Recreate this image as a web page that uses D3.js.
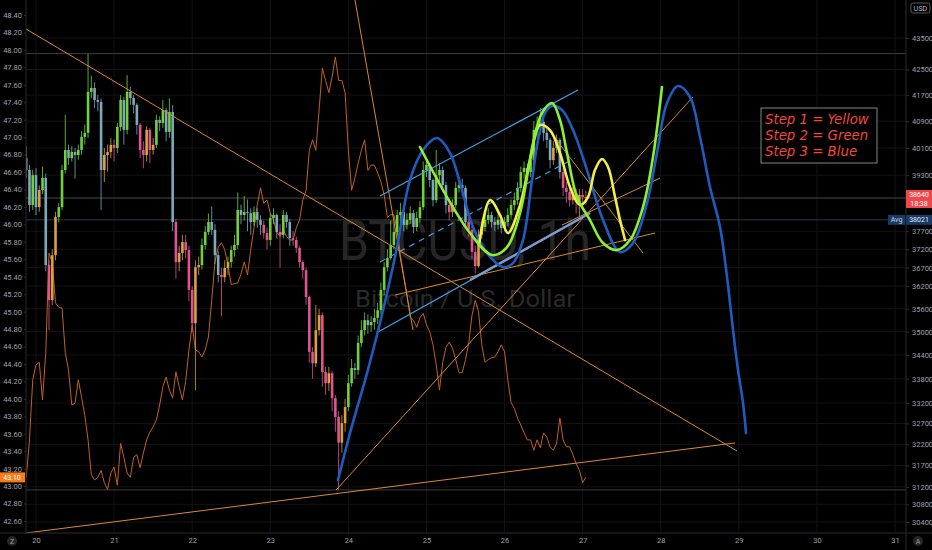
<!DOCTYPE html>
<html>
<head>
<meta charset="utf-8">
<script src="https://cdn.jsdelivr.net/npm/d3@7"></script>
<style>
  html, body { margin: 0; background: #000; }
  svg { display: block; }
  .axis text { fill: #9ea1a8; font: 7.5px Roboto, sans-serif; }
  .axis path, .axis line { stroke: #2b2b2b; }
</style>
</head>
<body>
<svg id="chart" width="932" height="550"></svg>
<script>
// BTCUSD 1h candles, Jan 19 21:00 -> Jan 27 01:00 (open = previous close)
const firstOpen = 39800;
const closes = [
  39450, 38440, 39300, 38380, 38870, 39220, 36770, 35830, 37040, 38100,
  38380, 39450, 40040, 39800, 39980, 39890, 40040, 40430, 40550, 41800,
  41920, 41550, 41490, 39450, 39890, 39980, 40190, 40100, 40730, 41550,
  40640, 41800, 41610, 41400, 40790, 40040, 39890, 40640, 40040, 40190,
  40940, 40850, 41240, 40580, 41180, 37960, 36850, 37100, 37400, 37180,
  36100, 35220, 36710, 36770, 37320, 37680, 37960, 37740, 37040, 36500,
  36440, 36690, 36850, 37180, 37320, 38300, 38160, 38240, 38210, 37960,
  38240, 38020, 37880, 37650, 37460, 38070, 38160, 37680, 37600, 38160,
  37960, 37510, 37460, 37240, 36850, 36630, 35910, 34480, 34190, 35040,
  35430, 33970, 33690, 33940, 33320, 32860, 32240, 32710, 33100, 33690,
  34070, 34020, 34710, 35040, 35300, 35170, 35250, 35360, 35560, 36100,
  36710, 36960, 37320, 37680, 38160, 38240, 37880, 38020, 38210, 37820,
  38070, 38380, 39450, 39600, 39160, 38580, 39300, 39450, 39010, 38440,
  38240, 38440, 38930, 39010, 38930, 37960, 37740, 37130, 36740, 37600,
  37820, 38020, 38160, 37960, 37880, 38020, 37790, 37960, 38160, 38440,
  38580, 38930, 39390, 39510, 39390, 39740, 40640, 40790, 40880, 40550,
  40340, 39740, 40100, 40340, 39390, 38930, 38810, 38580, 38780, 38530,
  38730, 38670, 38640
];
const highs = [
  40150, 39600, 39450, 39500, 39000, 39550, 39350, 36900, 37200, 38250,
  38500, 39600, 41100, 40200, 40150, 40100, 40200, 40600, 40800, 43000,
  42300, 42100, 41700, 41600, 40100, 40200, 40400, 40350, 40850, 41700,
  41650, 42320, 41950, 41700, 41450, 40850, 40300, 40750, 40700, 40400,
  41100, 41050, 41550, 41300, 41600, 41400, 38050, 37300, 37600, 37600,
  37300, 36200, 36900, 37000, 37500, 37850, 38200, 38400, 37900, 37150,
  36700, 36900, 37000, 37300, 37600, 38800, 38450, 38700, 38600, 38350,
  38400, 38350, 38150, 38000, 37800, 38200, 38350, 38200, 37900, 38300,
  38250, 38050, 37700, 37550, 37300, 36900, 36700, 35950, 34600, 35700,
  35600, 35500, 34100, 34100, 34000, 33400, 33000, 32900, 33300, 33900,
  34300, 34200, 34900, 35300, 35500, 35450, 35400, 35600, 35750, 36300,
  36850, 37200, 38000, 37900, 38300, 38500, 38350, 38200, 38400, 38300,
  38250, 38550, 39700, 39800, 39650, 39200, 40040, 39650, 39550, 39100,
  38600, 38600, 39100, 39250, 39200, 39000, 38100, 37850, 37300, 37750,
  38000, 38200, 38350, 38250, 38100, 38200, 38150, 38100, 38350, 38600,
  38800, 39100, 39550, 39700, 39650, 39900, 40900, 41050, 41300, 41000,
  40700, 40400, 40300, 40500, 40400, 39500, 39100, 38950, 38950, 38900,
  38900, 38900, 38850
];
const lows = [
  39220, 38250, 38300, 38150, 38250, 38750, 36600, 35040, 35700, 36900,
  37950, 38300, 39350, 39600, 39700, 39200, 39750, 39900, 40200, 40400,
  41600, 41300, 41200, 38300, 39100, 39400, 39800, 39700, 39950, 40600,
  40200, 40500, 41400, 41150, 40500, 39800, 39500, 39700, 39650, 39900,
  40100, 40600, 40700, 40300, 40400, 37700, 36400, 36600, 36900, 36950,
  35800, 35000, 33520, 36500, 36650, 37200, 37600, 37600, 36800, 36300,
  35400, 36300, 36500, 36700, 37000, 37200, 37900, 38000, 37700, 37600,
  37850, 37800, 37600, 37500, 37200, 37300, 37900, 37500, 36700, 37500,
  37800, 37300, 37300, 37100, 36700, 36400, 35700, 34200, 33800, 34100,
  34900, 33600, 33400, 33500, 33000, 32500, 31130, 32000, 32500, 33000,
  33600, 33800, 33900, 34600, 34900, 34950, 35000, 35050, 35200, 35450,
  35950, 36600, 36900, 37200, 37600, 37900, 37700, 37750, 37900, 37650,
  37700, 37950, 38300, 39250, 38950, 38400, 38500, 39100, 38800, 38200,
  38000, 38100, 38350, 38800, 38700, 37800, 37550, 36950, 36550, 36700,
  37500, 37700, 37900, 37800, 37700, 37750, 37650, 37700, 37850, 38050,
  38300, 38450, 38800, 39200, 39150, 39250, 39600, 40400, 40500, 40300,
  40100, 39500, 39600, 39950, 39200, 38700, 38500, 38400, 38450, 38200,
  38100, 38400, 38450
];

// compared symbol (left scale), same hourly bars
const ratio = [
  43.10, 43.53, 44.22, 44.39, 44.42, 43.99, 44.53, 45.67, 45.56, 45.10,
  45.05, 45.04, 44.53, 44.33, 43.93, 43.95, 44.22, 44.02, 43.81, 43.53,
  43.13, 43.07, 43.10, 43.18, 43.04, 42.96, 43.15, 43.22, 43.01, 43.49,
  43.33, 43.15, 43.10, 43.33, 43.36, 43.21, 43.38, 43.53, 43.62, 43.68,
  43.76, 43.93, 44.14, 44.25, 44.10, 44.01, 44.31, 44.14, 43.99, 44.20,
  44.56, 44.85, 44.56, 44.54, 44.48, 44.56, 44.71, 45.13, 45.57, 45.74,
  45.79, 45.71, 45.53, 45.31, 45.32, 45.33, 45.43, 45.57, 45.42, 45.71,
  45.96, 46.22, 46.42, 46.24, 46.28, 46.13, 46.05, 45.91, 45.86, 45.94,
  45.86, 45.82, 45.82, 45.96, 46.05, 46.28, 46.39, 46.85, 46.97, 46.85,
  47.31, 47.79, 47.65, 47.51, 47.69, 47.92, 47.65, 47.65, 47.51, 46.85,
  46.39, 46.53, 46.70, 46.85, 46.97, 46.62, 46.68, 46.68, 46.59, 46.49,
  46.34, 46.08, 46.11, 46.11, 45.94, 45.65, 45.42, 45.19, 44.94, 44.90,
  44.82, 44.93, 44.98, 44.85, 44.77, 44.62, 44.39, 44.10, 44.42, 44.59,
  44.65, 44.58, 44.45, 44.30, 44.30, 44.45, 44.64, 44.96, 45.13, 45.00,
  44.62, 44.42, 44.45, 44.47, 44.48, 44.54, 44.62, 44.54, 44.22, 43.96,
  43.89, 43.78, 43.70, 43.61, 43.53, 43.53, 43.41, 43.53, 43.44, 43.61,
  43.56, 43.45, 43.41, 43.49, 43.78, 43.53, 43.45, 43.45, 43.36, 43.26,
  43.18, 43.04, 43.10
];

const lastPrice = 38640, avgPrice = 38021, countdown = "18:38";
const ratioLast = 43.10;

const rightTicks = [43500, 42500, 41700, 40900, 40100, 39300, 37700, 37200, 36700, 36200,
  35600, 35000, 34400, 33800, 33200, 32700, 32200, 31700, 31200, 30800, 30400];
const leftTicks = [48.40, 48.20, 48.00, 47.80, 47.60, 47.40, 47.20, 47.00, 46.80, 46.60,
  46.40, 46.20, 46.00, 45.80, 45.60, 45.40, 45.20, 45.00, 44.80, 44.60, 44.40, 44.20,
  44.00, 43.80, 43.60, 43.40, 43.20, 43.00, 42.80, 42.60];
const dayTicks = [20, 21, 22, 23, 24, 25, 26, 27, 28, 29, 30, 31];

// drawings, as [day of January, price]
const orangeLines = [
  [[19.872, 43791], [28.977, 32040]],
  [[19.872, 30153], [28.951, 32232]],
  [[24.085, 44741], [24.828, 35041]],
  [[23.842, 31126], [28.413, 41641]],
  [[24.597, 35962], [27.927, 37651]],
  [[26.518, 40786], [27.773, 37097]],
  [[26.736, 37875], [27.991, 39216]]
];
const channelLines = [
  [[24.405, 38698], [26.941, 41857]],
  [[24.380, 34990], [26.992, 38071]]
];
const channelMid = [[24.405, 36853], [26.902, 39801]];
const supportLine = [[25.558, 36363], [27.094, 38213]];

const yellowPath = [[25.673,37318],[25.814,38582],[25.942,38156],[26.044,37651],[26.198,38440],
  [26.326,39742],[26.454,40786],[26.582,40635],[26.710,39949],[26.838,38956],[26.966,38440],
  [27.069,38668],[27.158,39449],[27.248,39772],[27.325,39537],[27.415,38668],[27.479,38015],
  [27.543,37456]];
const greenPath = [[24.917,40127],[25.263,38668],[25.558,37651],[25.840,37042],[26.032,37263],
  [26.198,38213],[26.288,39245],[26.365,40246],[26.480,41151],[26.608,41456],[26.710,40937],
  [26.800,39949],[26.928,38668],[27.094,38015],[27.261,37373],[27.440,37180],[27.607,37456],
  [27.773,38383],[27.901,39831],[28.016,41950]];
const bluePath = [[23.867,31357],[24.021,32468],[24.239,33942],[24.405,35224],[24.533,36363],
  [24.623,37263],[24.789,39158],[24.956,40038],[25.135,40395],[25.302,39949],[25.430,39071],
  [25.596,37819],[25.776,37097],[25.980,36714],[26.108,36823],[26.236,37456],[26.352,39158],
  [26.429,40335],[26.518,41151],[26.608,41364],[26.736,41242],[26.877,40635],[27.056,39449],
  [27.261,38015],[27.479,37125],[27.645,37373],[27.824,38497],[27.952,39949],[28.080,41456],
  [28.221,41981],[28.375,41641],[28.503,40425],[28.631,38956],[28.759,37819],[28.849,36444],
  [28.926,35041],[28.990,34018],[29.054,33197],[29.092,32468]];

const legendLines = ["Step 1 = Yellow", "Step 2 = Green", "Step 3 = Blue"];

// ---------------------------------------------------------------
const svg = d3.select("#chart");
const W = 932, H = 550;
const plot = { left: 26, right: 906, bottom: 533 };

const dayT = d => new Date(Date.UTC(2022, 0, 1) + (d - 1) * 864e5);
const x = d3.scaleUtc()
  .domain([dayT(20), dayT(31)])
  .range([36, 895]);
const y = d3.scaleLog().domain([30400, 43500]).range([522, 38]);
const yL = d3.scaleLinear().domain([42.60, 48.40]).range([521, 15]);
const pt = d => [x(dayT(d[0])), y(d[1])];

const t0 = Date.UTC(2022, 0, 19, 21);
const bars = closes.map((c, i) => {
  const o = i === 0 ? firstOpen : closes[i - 1];
  const ma = d3.mean(closes.slice(Math.max(0, i - 9), i + 1));
  return { t: new Date(t0 + i * 36e5), o, c,
    h: Math.max(highs[i], o, c), l: Math.min(lows[i], o, c), ma, r: ratio[i] };
});

function barColor(d) {
  if (d.c >= d.o) return d.c >= d.ma ? "#72d03d" : "#d9a13f";
  return d.o >= d.ma ? "#7ea8bc" : "#de5690";
}

svg.append("rect").attr("width", W).attr("height", H).attr("fill", "#000");

svg.append("defs").append("clipPath").attr("id", "clip")
  .append("rect").attr("x", plot.left).attr("y", 0)
  .attr("width", plot.right - plot.left).attr("height", plot.bottom);

const g = svg.append("g").attr("clip-path", "url(#clip)");

// faint grid
g.append("g").selectAll("line").data(rightTicks).join("line")
  .attr("x1", plot.left).attr("x2", plot.right)
  .attr("y1", d => y(d)).attr("y2", d => y(d))
  .attr("stroke", "#131313");
g.append("g").selectAll("line").data(dayTicks).join("line")
  .attr("x1", d => x(dayT(d))).attr("x2", d => x(dayT(d)))
  .attr("y1", 0).attr("y2", plot.bottom)
  .attr("stroke", "#121212");

// high / low / last / average price lines
const hiLo = [d3.max(bars, d => d.h), d3.min(bars, d => d.l)];
g.append("g").selectAll("line").data(hiLo).join("line")
  .attr("x1", plot.left).attr("x2", plot.right)
  .attr("y1", d => y(d)).attr("y2", d => y(d))
  .attr("stroke", "#3d3d3d");
g.append("line").attr("x1", plot.left).attr("x2", plot.right)
  .attr("y1", y(lastPrice)).attr("y2", y(lastPrice)).attr("stroke", "#4a4a4a");
g.append("line").attr("x1", plot.left).attr("x2", plot.right)
  .attr("y1", y(avgPrice)).attr("y2", y(avgPrice)).attr("stroke", "#2c3440");

// watermark
g.append("text").attr("x", 465).attr("y", 260).attr("text-anchor", "middle")
  .attr("textLength", 252).attr("lengthAdjust", "spacingAndGlyphs")
  .style("font", "56px Roboto, sans-serif").attr("fill", "#262626")
  .text("BTCUSD, 1h");
g.append("text").attr("x", 465).attr("y", 307).attr("text-anchor", "middle")
  .attr("textLength", 220).attr("lengthAdjust", "spacingAndGlyphs")
  .style("font", "24px Roboto, sans-serif").attr("fill", "#2a2a2a")
  .text("Bitcoin / U.S. Dollar");

// compared series on the left scale
g.append("path").datum(bars)
  .attr("fill", "none").attr("stroke", "#c0621f").attr("stroke-width", 1)
  .attr("d", d3.line().x(d => x(d.t)).y(d => yL(d.r)));

// candles
const cw = 2.6;
const cg = g.append("g").selectAll("g").data(bars).join("g");
cg.append("line")
  .attr("x1", d => x(d.t)).attr("x2", d => x(d.t))
  .attr("y1", d => y(d.h)).attr("y2", d => y(d.l))
  .attr("stroke", barColor).attr("stroke-opacity", 0.8).attr("stroke-width", 1);
cg.append("rect")
  .attr("x", d => x(d.t) - cw / 2).attr("width", cw)
  .attr("y", d => y(Math.max(d.o, d.c)))
  .attr("height", d => Math.max(1, Math.abs(y(d.o) - y(d.c))))
  .attr("fill", barColor);

// trend lines
const seg = (sel, data) => sel.selectAll("line").data(data).join("line")
  .attr("x1", d => pt(d[0])[0]).attr("y1", d => pt(d[0])[1])
  .attr("x2", d => pt(d[1])[0]).attr("y2", d => pt(d[1])[1]);

seg(g.append("g"), orangeLines).attr("stroke", "#d98a2c").attr("stroke-width", 1);
seg(g.append("g"), channelLines).attr("stroke", "#3f9fe3").attr("stroke-width", 1.2);
seg(g.append("g"), [channelMid]).attr("stroke", "#3f9fe3").attr("stroke-width", 1.2)
  .attr("stroke-dasharray", "6,5");
seg(g.append("g"), [supportLine]).attr("stroke", "#7d9ccc").attr("stroke-width", 2.4);

// hand-drawn steps
const brush = d3.line().x(d => pt(d)[0]).y(d => pt(d)[1]).curve(d3.curveCatmullRom.alpha(0.5));
g.append("path").datum(bluePath).attr("d", brush)
  .attr("fill", "none").attr("stroke", "#1f5cc0").attr("stroke-width", 2.6)
  .attr("stroke-linecap", "round");
g.append("path").datum(yellowPath).attr("d", brush)
  .attr("fill", "none").attr("stroke", "#f3ee4a").attr("stroke-width", 2.6)
  .attr("stroke-linecap", "round");
g.append("path").datum(greenPath).attr("d", brush)
  .attr("fill", "none").attr("stroke", "#8cef34").attr("stroke-width", 2.6)
  .attr("stroke-linecap", "round");

// legend note
const lg = svg.append("g").attr("transform", "translate(761,108)");
lg.append("rect").attr("width", 116).attr("height", 55)
  .attr("fill", "#000").attr("stroke", "#7b8a8a").attr("stroke-width", 1);
lg.selectAll("text").data(legendLines).join("text")
  .attr("x", 4).attr("y", (d, i) => 16 + i * 16)
  .attr("fill", "#f2463a")
  .style("font", "italic 14.8px 'Liberation Sans Narrow', 'DejaVu Sans Condensed', sans-serif")
  .text(d => d);

// axis panels
svg.append("rect").attr("x", 0).attr("y", 0).attr("width", plot.left).attr("height", H).attr("fill", "#000");
svg.append("rect").attr("x", plot.right).attr("y", 0).attr("width", W - plot.right).attr("height", H).attr("fill", "#000");
svg.append("rect").attr("x", 0).attr("y", plot.bottom).attr("width", W).attr("height", H - plot.bottom).attr("fill", "#000");

svg.append("g").attr("class", "axis").attr("transform", `translate(${plot.left},0)`)
  .call(d3.axisLeft(yL).tickValues(leftTicks).tickSize(2).tickPadding(2).tickFormat(d3.format(".2f")))
  .call(a => a.select(".domain").attr("d", `M0,0V${plot.bottom}`));

svg.append("g").attr("class", "axis").attr("transform", `translate(${plot.right},0)`)
  .call(d3.axisRight(y).tickValues(rightTicks).tickSize(3).tickPadding(3).tickFormat(d => d))
  .call(a => a.select(".domain").attr("d", `M0,0V${H}`));

svg.append("g").attr("class", "axis").attr("transform", `translate(0,${plot.bottom})`)
  .call(d3.axisBottom(x).tickValues(dayTicks.map(dayT)).tickSize(0).tickPadding(5)
    .tickFormat(d3.utcFormat("%-d")))
  .call(a => a.select(".domain").attr("d", `M0,0H${W}`));

// price tags
const tag = (xx, yy, w, h, fill) => svg.append("rect")
  .attr("x", xx).attr("y", yy).attr("width", w).attr("height", h).attr("fill", fill);
const label = (xx, yy, txt, fill, anchor) => svg.append("text")
  .attr("x", xx).attr("y", yy).attr("text-anchor", anchor || "middle")
  .attr("fill", fill).style("font", "7px Roboto, sans-serif").text(txt);

const yl = y(lastPrice);
tag(plot.right, yl - 8, 26, 18, "#f0474a");
label(919, yl - 1, lastPrice, "#fff");
label(919, yl + 7.5, countdown, "#fff");

const ya = y(avgPrice);
tag(888, ya - 5, 17, 10, "#1b3a63");
label(896.5, ya + 2.5, "Avg", "#c7d3e3");
tag(plot.right, ya - 5, 26, 10, "#1b3a63");
label(919, ya + 2.5, avgPrice, "#e3e9f2");

const yr = yL(ratioLast);
tag(0, yr - 5, 25, 10, "#f57c17");
label(12, yr + 2.5, d3.format(".2f")(ratioLast), "#fff");

// corner widgets
svg.append("rect").attr("x", 911).attr("y", 3).attr("width", 19).attr("height", 10).attr("rx", 2)
  .attr("fill", "none").attr("stroke", "#555");
label(920.5, 10.5, "USD", "#b8bbc2");
svg.append("circle").attr("cx", 12).attr("cy", 541).attr("r", 5).attr("fill", "#262626");
label(12, 543.5, "Z", "#9ea1a8");
svg.append("circle").attr("cx", 918).attr("cy", 541).attr("r", 5).attr("fill", "#262626");
label(918, 543.5, "A", "#9ea1a8");
</script>
</body>
</html>
